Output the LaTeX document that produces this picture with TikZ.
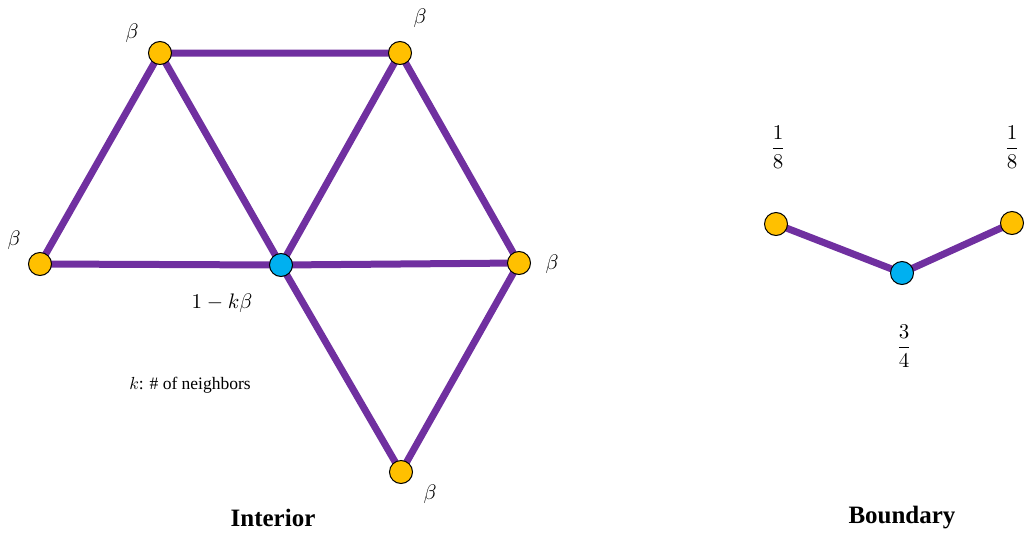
\documentclass[tikz,border=0pt]{standalone}
\usepackage{amsmath}
\usepackage{fontspec}
\setmainfont{Liberation Serif}
\begin{document}
\begin{tikzpicture}[x=1pt,y=-1pt,
  edge/.style={line width=7pt,draw={rgb,255:red,112;green,48;blue,160}},
  onode/.style={circle,draw=black,line width=1pt,fill={rgb,255:red,255;green,192;blue,0},minimum size=23pt,inner sep=0pt},
  bnode/.style={circle,draw=black,line width=1pt,fill={rgb,255:red,0;green,176;blue,240},minimum size=23pt,inner sep=0pt},
  lab/.style={scale=2.1},
  ttl/.style={font=\bfseries,scale=2.5}]
\useasboundingbox (0,0) rectangle (1033,541);
\coordinate (tl) at (160,53);
\coordinate (tr) at (400,53);
\coordinate (l) at (40,264);
\coordinate (c) at (281,265);
\coordinate (r) at (519,263);
\coordinate (b) at (401,472);
\coordinate (bl) at (776,224);
\coordinate (bc) at (902,273);
\coordinate (br) at (1012,223);
\draw[edge] (tl)--(tr) (tl)--(l) (tl)--(c) (tr)--(c) (tr)--(r) (l)--(c) (c)--(r) (c)--(b) (r)--(b);
\draw[edge] (bl)--(bc)--(br);
\foreach \n in {tl,tr,l,r,b,bl,br} \node[onode] (n\n) at (\n) {};
\node[bnode] (nc) at (c) {};
\node[bnode] (nbc) at (bc) {};
\node[lab] (btl) at (132,33) {$\beta$};
\node[lab] (btr) at (420,18) {$\beta$};
\node[lab] (bl1) at (14,240) {$\beta$};
\node[lab] (br1) at (552,264) {$\beta$};
\node[lab] (bb) at (430,494) {$\beta$};
\node[lab] (cl) at (222,303) {$1-k\beta$};
\node[scale=1.75] (note) at (190,385) {$k$: \# of neighbors};
\node[lab] (f1) at (778,147) {$\dfrac{1}{8}$};
\node[lab] (f2) at (1012,147) {$\dfrac{1}{8}$};
\node[lab] (f3) at (904,346) {$\dfrac{3}{4}$};
\node[ttl] (t1) at (273,518) {Interior};
\node[ttl] (t2) at (902,518) {Boundary};
\end{tikzpicture}
\end{document}
